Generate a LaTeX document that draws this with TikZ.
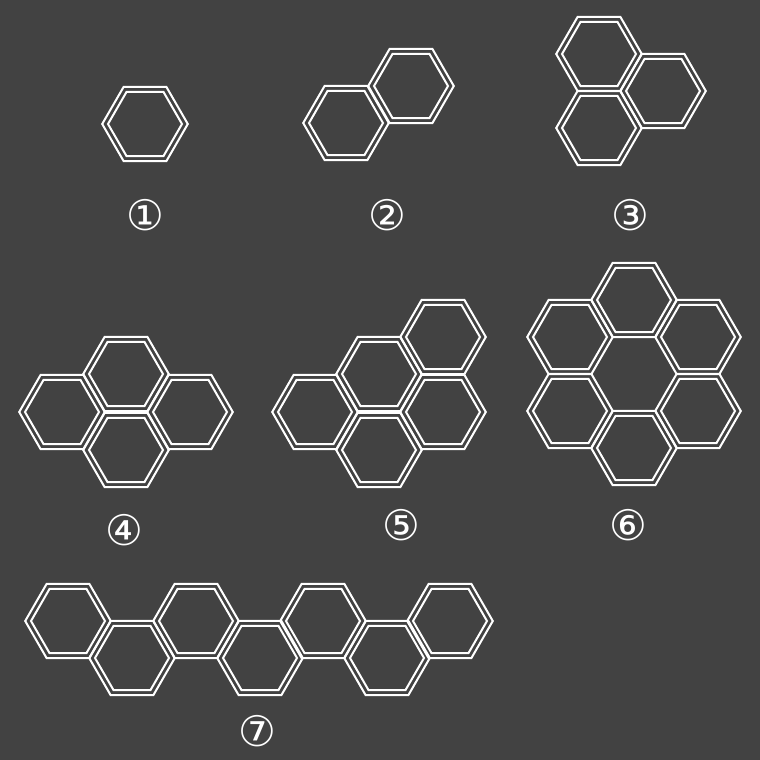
\documentclass[tikz,border=0pt]{standalone}
\usepackage{fontspec}
\usepackage{xcolor}
\usepackage{tikz}
\newfontfamily\circfont{DejaVu Sans}
\definecolor{bgdark}{RGB}{66,66,66}

\tikzset{
  cell/.style={draw=white, line width=1.15pt},
  numlabel/.style={text=white, inner sep=0pt, font=\circfont\fontsize{24}{24}\selectfont}
}

\begin{document}
\begin{tikzpicture}[x=0.02cm, y=-0.02cm]
  \fill[bgdark] (0,0) rectangle (760,760);
  \useasboundingbox (0,0) rectangle (760,760);

  % every cell: outer and inner hexagon
  \foreach \x/\y in {145/124,
                     346/123, 411/86,
                     599/54, 599/128, 663/91,
                     126/374, 62/412, 190/412, 126/450,
                     315/412, 379/374, 379/450, 443/412, 443/337,
                     634/300, 634/448, 570/337, 570/411, 698/337, 698/411,
                     68/621, 132/658, 196/621, 260/658, 323/621, 387/658, 450/621}{
    \draw[cell, shift={(\x,\y)}]
          (0:42.8) -- (60:42.8) -- (120:42.8) -- (180:42.8) -- (240:42.8) -- (300:42.8) -- cycle;
    \draw[cell, shift={(\x,\y)}]
          (0:37) -- (60:37) -- (120:37) -- (180:37) -- (240:37) -- (300:37) -- cycle;
  }

  \node[numlabel] (lab1) at (145,215) {①};
  \node[numlabel] (lab2) at (387,215) {②};
  \node[numlabel] (lab3) at (630,215) {③};
  \node[numlabel] (lab4) at (124,530) {④};
  \node[numlabel] (lab5) at (401,525) {⑤};
  \node[numlabel] (lab6) at (628,525) {⑥};
  \node[numlabel] (lab7) at (257,731) {⑦};
\end{tikzpicture}
\end{document}
